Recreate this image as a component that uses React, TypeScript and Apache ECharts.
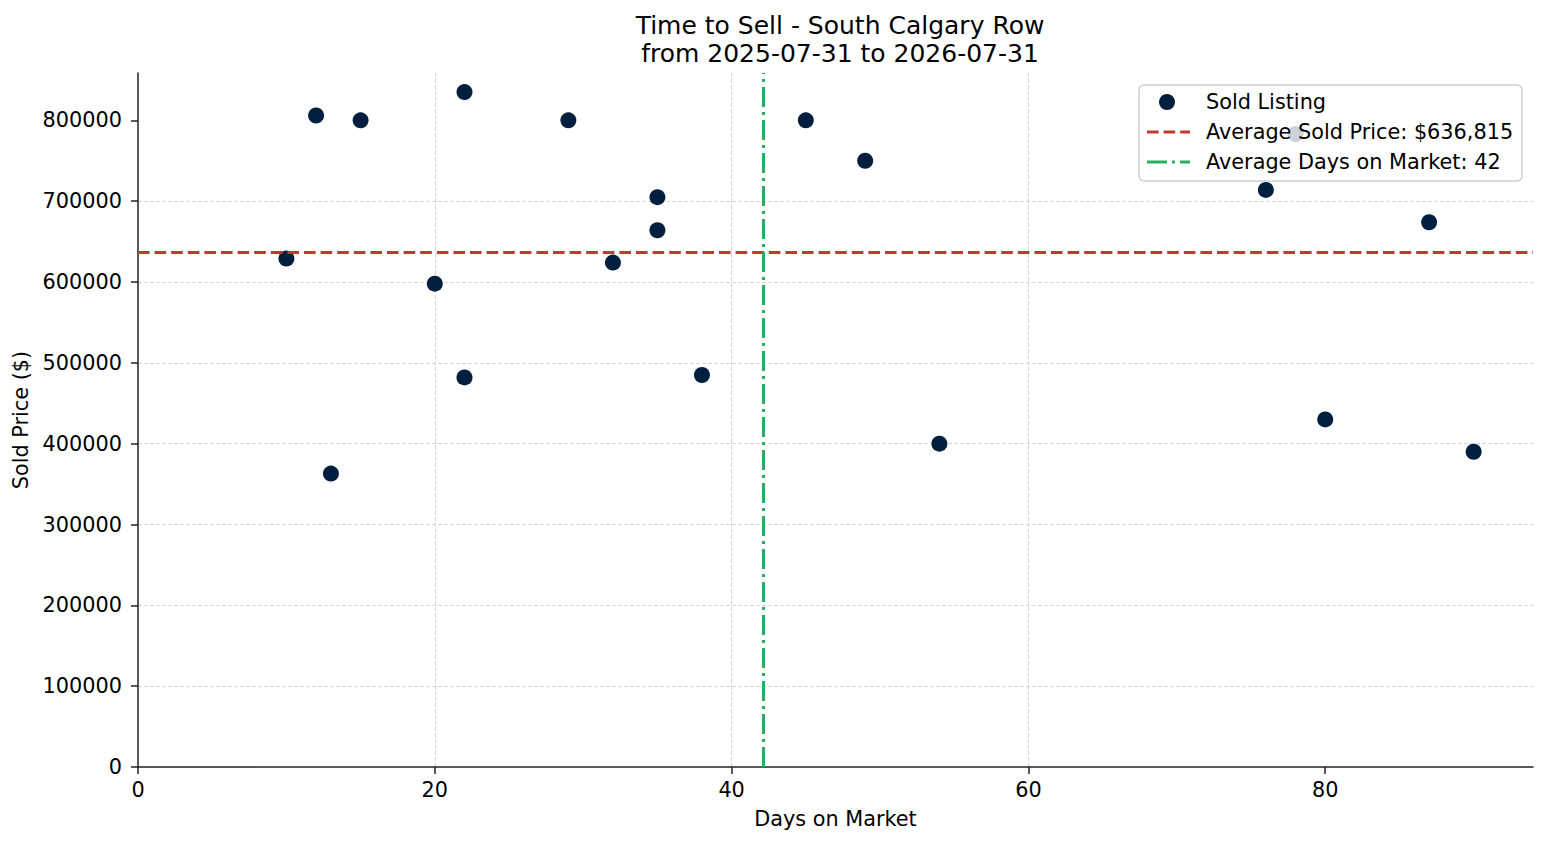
import { useEffect, useRef } from "react";
import * as echarts from "echarts";

// days on market / sold price
const days = [10, 12, 13, 15, 20, 22, 22, 29, 32, 35, 35, 38, 45, 49, 54, 76, 78, 80, 87, 90];
const prices = [
  629000, 806000, 363000, 800000, 598000, 835000, 482000, 800000, 624000, 705000,
  664000, 485000, 800000, 750000, 400000, 714000, 783000, 430000, 674000, 390000,
];
const avgPrice = 636815;
const avgDays = 42.1;
const xTicks = [0, 20, 40, 60, 80];
const yTicks = [0, 100000, 200000, 300000, 400000, 500000, 600000, 700000, 800000];

const titleText = "Time to Sell - South Calgary Row\nfrom 2025-07-31 to 2026-07-31";
const legendLabels = [
  "Sold Listing",
  "Average Sold Price: $636,815",
  "Average Days on Market: 42",
];

const font = "'DejaVu Sans', sans-serif";
const fs = 20.8;
const navy = "#001f3f";
const red = "#c0392b";
const green = "#27ae60";
const axisColor = "#222";
const gridColor = "#d6d6d6";

export default function App() {
  const chartRef = useRef<HTMLDivElement>(null);

  useEffect(() => {
    if (!chartRef.current) return;
    const chart = echarts.init(chartRef.current, undefined, { renderer: "svg" });

    const axisCommon = {
      type: "value" as const,
      axisLine: { show: true, lineStyle: { color: axisColor, width: 1.5 } },
      splitLine: {
        show: true,
        showMinLine: false,
        showMaxLine: false,
        lineStyle: { color: gridColor, width: 1, type: [4, 2] },
      },
      nameTextStyle: { fontSize: fs, color: "#000", fontFamily: font },
    };

    const option: echarts.EChartsOption = {
      animation: false,
      backgroundColor: "#fff",
      title: {
        text: titleText,
        left: 835,
        top: 6,
        textAlign: "center",
        textStyle: {
          fontSize: 25,
          lineHeight: 28,
          fontWeight: "normal",
          color: "#000",
          fontFamily: font,
        },
      },
      grid: { left: 138, right: 14, top: 73, bottom: 78 },
      xAxis: {
        ...axisCommon,
        min: 0,
        max: 94,
        interval: 20,
        name: "Days on Market",
        nameLocation: "middle",
        nameGap: 41,
        axisTick: {
          show: true,
          length: 7,
          customValues: xTicks,
          lineStyle: { color: axisColor, width: 1.5 },
        },
        axisLabel: {
          customValues: xTicks,
          margin: 12,
          fontSize: fs,
          color: "#000",
          fontFamily: font,
        },
      },
      yAxis: {
        ...axisCommon,
        min: 0,
        max: 858600,
        interval: 100000,
        name: "Sold Price ($)",
        nameLocation: "middle",
        nameGap: 100,
        axisTick: {
          show: true,
          length: 7,
          customValues: yTicks,
          lineStyle: { color: axisColor, width: 1.5 },
        },
        axisLabel: {
          customValues: yTicks,
          margin: 16,
          fontSize: fs,
          color: "#000",
          fontFamily: font,
          formatter: (v: number) => String(v),
        },
      },
      series: [
        {
          name: "Sold Listing",
          type: "scatter",
          data: days.map((d, i) => [d, prices[i]]),
          symbolSize: 16,
          itemStyle: { color: navy, opacity: 1 },
          z: 2,
        },
        {
          name: "averages",
          type: "scatter",
          data: [],
          z: 4,
          markLine: {
            silent: true,
            symbol: "none",
            label: { show: false },
            data: [
              {
                yAxis: avgPrice,
                lineStyle: { color: red, width: 3, type: [11.6, 5], opacity: 1 },
              },
              {
                xAxis: avgDays,
                lineStyle: { color: green, width: 3, type: [20, 5, 3, 5], opacity: 1 },
              },
            ],
          },
        },
      ],
      graphic: [
        {
          type: "rect",
          z: 100,
          shape: { x: 1139, y: 85, width: 383, height: 96, r: 5 },
          style: { fill: "rgba(255,255,255,0.8)", stroke: "#cfcfcf", lineWidth: 1.5 },
        },
        {
          type: "circle",
          z: 101,
          shape: { cx: 1167, cy: 102, r: 8 },
          style: { fill: navy },
        },
        {
          type: "line",
          z: 101,
          shape: { x1: 1147, y1: 132, x2: 1190, y2: 132 },
          style: { stroke: red, lineWidth: 3, lineDash: [11.6, 5] },
        },
        {
          type: "line",
          z: 101,
          shape: { x1: 1147, y1: 162, x2: 1190, y2: 162 },
          style: { stroke: green, lineWidth: 3, lineDash: [20, 5, 3, 5] },
        },
        ...legendLabels.map((t, i) => ({
          type: "text" as const,
          z: 101,
          x: 1206,
          y: 102 + i * 30,
          style: {
            text: t,
            fontSize: fs,
            fontFamily: font,
            fill: "#000",
            verticalAlign: "middle" as const,
          },
        })),
      ],
    };

    chart.setOption(option);
    return () => chart.dispose();
  }, []);

  return (
    <div
      ref={chartRef}
      style={{ position: "absolute", left: 0, top: 0, width: 1547, height: 845 }}
    />
  );
}
